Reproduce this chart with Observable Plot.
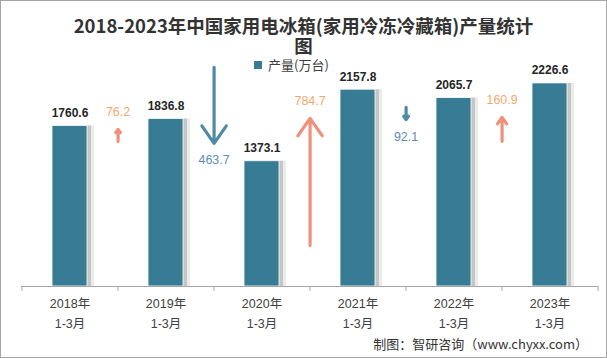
<!DOCTYPE html>
<html><head><meta charset="utf-8">
<script src="https://cdn.jsdelivr.net/npm/d3@7"></script>
<script src="https://cdn.jsdelivr.net/npm/@observablehq/plot@0.6"></script>
<style>
html,body{margin:0;padding:0;background:#fff;}
#wrap{position:relative;width:607px;height:358px;overflow:hidden;font-family:"Liberation Sans","Noto Sans CJK SC",sans-serif;}
#chart{position:absolute;left:0;top:0;}
#frame{position:absolute;left:0;top:0;width:607px;height:358px;box-sizing:border-box;border:1px solid #a6a6a6;pointer-events:none;}
.title{position:absolute;left:0;width:607px;text-align:center;font-family:"Noto Sans CJK SC",sans-serif;font-weight:bold;font-size:18.5px;line-height:19px;color:#333;}
#t1{top:16px;} #t2{top:36px;}
#legend{position:absolute;left:254px;top:57px;font-family:"Noto Sans CJK SC",sans-serif;font-size:13px;line-height:16px;color:#404040;display:flex;align-items:center;}
#legend i{display:inline-block;width:8px;height:8px;background:#377b95;margin-right:6px;}
#caption{position:absolute;right:19px;top:336px;font-family:"Noto Sans CJK SC",sans-serif;font-size:13px;line-height:15px;color:#333;}
</style></head>
<body>
<div id="wrap">
  <div id="chart"></div>
  <div class="title" id="t1">2018-2023年中国家用电冰箱(家用冷冻冷藏箱)产量统计</div>
  <div class="title" id="t2">图</div>
  <div id="legend"><i></i><span>产量(万台)</span></div>
  <div id="caption">制图：智研咨询（www.chyxx.com）</div>
  <div id="frame"></div>
</div>
<script>
const years = ["2018年", "2019年", "2020年", "2021年", "2022年", "2023年"];
const period = "1-3月";
const output = [1760.6, 1836.8, 1373.1, 2157.8, 2065.7, 2226.6];
const changes = [76.2, -463.7, 784.7, -92.1, 160.9];
const arrowFrom = [1590, 2404, 450, 1965, 1592];
const arrowTo = [1723, 1570, 1844, 1830, 1855];

const W = 607, H = 358, ML = 21, MR = 9;
const step = (W - ML - MR) / years.length;
const barColor = "#377b95";
const upColor = "#f0907a", downColor = "#4f8aa6";
const upText = "#f4a96c", downText = "#5b8fb5";

const bars = years.map((c, i) => ({cat: c, value: output[i]}));
const arrows = changes.map((c, i) => ({cat: years[i], from: arrowFrom[i], to: arrowTo[i], change: c, label: Math.abs(c).toFixed(1)}));
const ups = arrows.filter(d => d.change > 0);
const downs = arrows.filter(d => d.change < 0);

const chart = Plot.plot({
  width: W, height: H,
  marginTop: 58, marginBottom: 72, marginLeft: ML, marginRight: MR,
  x: {domain: years, paddingInner: 0.64, paddingOuter: 0.32, axis: null, label: null},
  y: {domain: [0, 2500], axis: null, label: null},
  style: {fontFamily: '"Liberation Sans","Noto Sans CJK SC",sans-serif', background: "transparent"},
  marks: [
    Plot.barY(bars, {x: "cat", y: "value", fill: "#ebebeb", dx: 7}),
    Plot.barY(bars, {x: "cat", y: "value", fill: "#c6c6c6", dx: 4}),
    Plot.barY(bars, {x: "cat", y: "value", fill: barColor, stroke: "#fff", strokeWidth: 0.8}),
    Plot.ruleY([0], {stroke: "#a6a6a6"}),
    Plot.axisX({label: null, tickSize: 0, tickPadding: 7, tickFormat: d => d + "\n" + period, fontSize: 12.5, lineHeight: 1.6, fill: "#404040"}),
    Plot.axisX({label: null, ticks: years, tickSize: 5, tickFormat: () => "", dx: -step / 2, stroke: "#a6a6a6"}),
    Plot.axisX({label: null, ticks: [years[years.length - 1]], tickSize: 5, tickFormat: () => "", dx: step / 2, stroke: "#a6a6a6"}),
    Plot.text(bars, {x: "cat", y: "value", text: d => d.value.toFixed(1), dy: -13, fontWeight: "bold", fontSize: 12, fill: "#262626"}),
    Plot.arrow(ups, {x1: "cat", x2: "cat", y1: "from", y2: "to", dx: step / 2, stroke: upColor, strokeWidth: 3.2, headLength: 10, headAngle: 70}),
    Plot.arrow(downs, {x1: "cat", x2: "cat", y1: "from", y2: "to", dx: step / 2, stroke: downColor, strokeWidth: 3.2, headLength: 10, headAngle: 70}),
    Plot.text(ups, {x: "cat", y: "to", text: "label", dx: step / 2, dy: -17, fontSize: 12.5, fill: upText}),
    Plot.text(downs, {x: "cat", y: "to", text: "label", dx: step / 2, dy: 17, fontSize: 12.5, fill: downText})
  ]
});
document.getElementById("chart").appendChild(chart);
</script>
</body></html>
